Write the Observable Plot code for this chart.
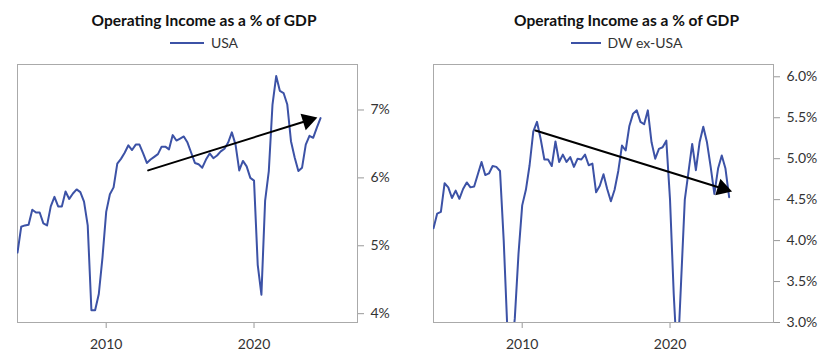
<!DOCTYPE html>
<html><head><meta charset="utf-8">
<script src="https://cdn.jsdelivr.net/npm/d3@7"></script>
<script src="https://cdn.jsdelivr.net/npm/@observablehq/plot@0.6"></script>
<style>
body{margin:0;width:840px;height:362px;overflow:hidden;font-family:Lato,sans-serif;background:#fff;position:relative}
.panel{position:absolute;top:0;width:420px;height:362px}
.title{position:absolute;top:10px;left:0;text-align:center;font-weight:700;font-size:15.5px;line-height:20px;color:#111;white-space:nowrap}
.legend{position:absolute;top:34px;left:0;font-size:14px;line-height:17px;color:#333;display:flex;justify-content:center;align-items:center;white-space:nowrap}
.sw{display:inline-block;height:2px;background:#3c52a6;margin-right:7px}
.panel svg{position:absolute;top:56px;left:0}
g[aria-label$="-axis tick"]{stroke:#999}
.tick line{stroke:#999}
</style>
</head><body>
<div class="panel" id="p1" style="left:0"></div>
<div class="panel" id="p2" style="left:420px"></div>
<script>
const chartTitle = "Operating Income as a % of GDP";
const seriesNames = ["USA", "DW ex-USA"];
const startYear = 2004;
const xDomain = [2004, 2027];
const xTicks = [2010, 2020];

// quarterly values, first quarter = 2004
const usaValues = [4.90,5.28,5.30,5.31,5.53,5.49,5.49,5.33,5.30,5.58,5.72,5.58,5.58,5.80,5.69,5.77,
  5.83,5.79,5.65,5.30,4.05,4.05,4.29,4.83,5.50,5.76,5.86,6.21,6.28,6.37,6.48,6.41,
  6.49,6.49,6.36,6.22,6.27,6.31,6.35,6.46,6.46,6.42,6.63,6.55,6.58,6.61,6.52,6.37,
  6.22,6.20,6.15,6.27,6.36,6.29,6.33,6.39,6.43,6.52,6.67,6.49,6.11,6.25,6.17,6.00,
  5.96,4.72,4.28,5.66,6.10,7.08,7.50,7.28,7.25,7.08,6.54,6.30,6.10,6.15,6.49,6.62,
  6.59,6.74,6.88];
const exUsaValues = [4.15,4.33,4.35,4.70,4.65,4.52,4.61,4.51,4.63,4.71,4.65,4.66,4.81,4.96,4.80,4.82,
  4.91,4.90,4.85,4.00,2.90,2.60,3.05,3.84,4.43,4.62,4.92,5.33,5.45,5.24,4.99,4.99,
  4.91,5.21,4.96,5.05,4.96,5.02,4.90,5.00,4.99,5.05,4.92,4.94,4.59,4.67,4.81,4.63,
  4.48,4.62,4.85,5.16,5.10,5.40,5.55,5.59,5.45,5.42,5.59,5.20,5.00,5.12,5.14,5.22,
  4.50,3.35,2.50,3.50,4.50,4.84,5.18,4.86,5.20,5.39,5.20,4.90,4.57,4.88,5.04,4.88,
  4.53];

const usaYDomain = [3.87, 7.67];
const exUsaYDomain = [3.0, 6.15];
const usaYTicks = [4, 5, 6, 7];
const exUsaYTicks = [3.0, 3.5, 4.0, 4.5, 5.0, 5.5, 6.0];

const usaArrowX = [2012.84, 2024.29];
const usaArrowY = [6.11, 6.89];
const exUsaArrowX = [2010.9, 2024.2];
const exUsaArrowY = [5.345, 4.60];

const lineColor = "#3c52a6";

function chart(el, cfg) {
  const W = 420, H = 306, mt = 8, mb = 40;
  const t = document.createElement("div");
  t.className = "title"; t.style.width = cfg.center * 2 + "px"; t.textContent = chartTitle;
  el.appendChild(t);
  const lg = document.createElement("div");
  lg.className = "legend"; lg.style.width = cfg.center * 2 + "px";
  const sw = document.createElement("span"); sw.className = "sw"; sw.style.width = cfg.sw + "px";
  const tx = document.createElement("span"); tx.textContent = cfg.name;
  lg.appendChild(sw); lg.appendChild(tx); el.appendChild(lg);

  const sx = d3.scaleLinear(xDomain, [cfg.ml, W - cfg.mr]);
  const sy = d3.scaleLinear(cfg.yDomain, [H - mb, mt]);
  const a = [sx(cfg.ax[0]), sy(cfg.ay[0])], b = [sx(cfg.ax[1]), sy(cfg.ay[1])];
  const len = Math.hypot(b[0] - a[0], b[1] - a[1]);
  const ux = (b[0] - a[0]) / len, uy = (b[1] - a[1]) / len;
  const cx = sx.invert(b[0] - 10 * ux), cy = sy.invert(b[1] - 10 * uy);
  const angle = Math.atan2(ux, -uy) * 180 / Math.PI;

  const data = cfg.values.map((v, i) => ({t: startYear + i / 4, v}));
  const p = Plot.plot({
    width: W, height: H, marginTop: mt, marginBottom: mb, marginLeft: cfg.ml, marginRight: cfg.mr,
    style: {fontFamily: "Lato, sans-serif", fontSize: "14px", color: "#333", background: "transparent", overflow: "visible"},
    x: {domain: xDomain, ticks: xTicks, tickFormat: "d", tickSize: 6, tickPadding: 11, label: null},
    y: {domain: cfg.yDomain, axis: "right", ticks: cfg.yTicks, tickFormat: cfg.fmt, tickSize: 6, tickPadding: 7, label: null},
    marks: [
      Plot.frame({stroke: "#aaa"}),
      Plot.line(data, {x: "t", y: "v", stroke: lineColor, strokeWidth: 2, clip: true}),
      Plot.line([{x: cfg.ax[0], y: cfg.ay[0]}, {x: cx, y: cy}], {x: "x", y: "y", stroke: "#000", strokeWidth: 2}),
      Plot.dot([{x: cx, y: cy}], {x: "x", y: "y", symbol: "triangle", r: 6.4, fill: "#000", stroke: "none", rotate: angle})
    ]
  });
  el.appendChild(p);
}

chart(document.getElementById("p1"), {
  name: seriesNames[0], center: 204, sw: 34, ml: 17, mr: 63,
  values: usaValues, yDomain: usaYDomain, yTicks: usaYTicks, fmt: d => d + "%",
  ax: usaArrowX, ay: usaArrowY
});
chart(document.getElementById("p2"), {
  name: seriesNames[1], center: 206.5, sw: 30, ml: 13, mr: 67,
  values: exUsaValues, yDomain: exUsaYDomain, yTicks: exUsaYTicks, fmt: d => d.toFixed(1) + "%",
  ax: exUsaArrowX, ay: exUsaArrowY
});
</script>
</body></html>
